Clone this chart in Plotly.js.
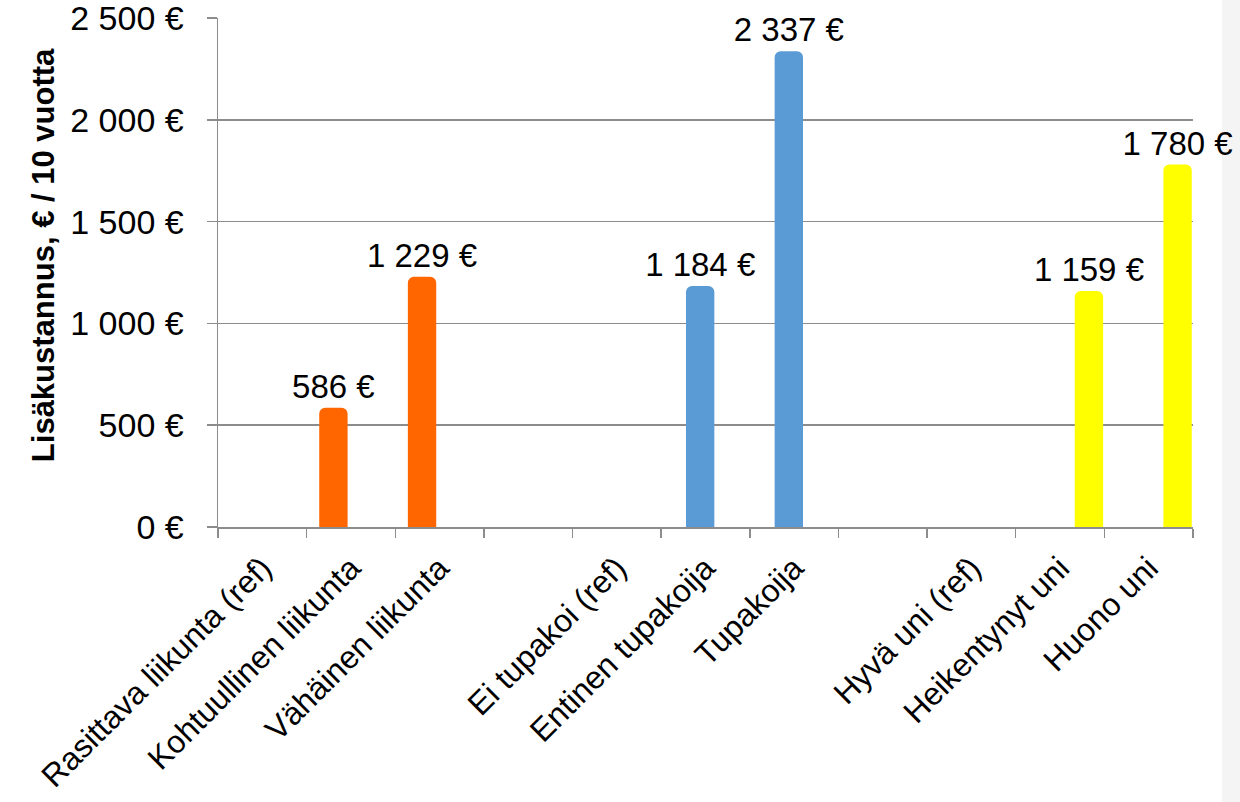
<!DOCTYPE html>
<html>
<head>
<meta charset="utf-8">
<script src="https://cdn.plot.ly/plotly-3.0.1.min.js"></script>
<style>
  html, body { margin: 0; padding: 0; background: #ffffff; }
  #chart { width: 1240px; height: 802px; }
</style>
</head>
<body>
<div id="chart"></div>
<script>
// Categories (blank slots separate the three groups)
const categories = [
  'Rasittava liikunta (ref)', 'Kohtuullinen liikunta', 'Vähäinen liikunta', '\u200b',
  'Ei tupakoi (ref)', 'Entinen tupakoija', 'Tupakoija', '\u200b\u200b',
  'Hyvä uni (ref)', 'Heikentynyt uni', 'Huono uni'
];
// Series values (€ / 10 years)
const liikunta = [null, 586, 1229, null, null, null, null, null, null, null, null];
const tupakointi = [null, null, null, null, null, 1184, 2337, null, null, null, null];
const uni = [null, null, null, null, null, null, null, null, null, 1159, 1780];
const yTitle = 'Lisäkustannus, € / 10 vuotta';

const FONT = 'Arial, "Liberation Sans", sans-serif';
const GRID = '#8c8c8c';

function barTrace(values, color, offset) {
  return {
    type: 'bar',
    x: categories,
    y: values,
    marker: { color: color, cornerradius: 6, line: { width: 0 } },
    width: 0.32,
    offset: offset,
    texttemplate: '%{y:,d} €',
    textposition: 'outside',
    constraintext: 'none',
    textfont: { family: FONT, size: 33, color: '#000000' },
    cliponaxis: false,
    hoverinfo: 'skip',
    showlegend: false
  };
}

const data = [
  barTrace(liikunta, '#FF6600', -0.358),
  barTrace(tupakointi, '#5B9BD5', -0.22),
  barTrace(uni, '#FFFF00', 0.166)
];

const layout = {
  width: 1240,
  height: 802,
  margin: { l: 218, r: 47, t: 18, b: 275 },
  paper_bgcolor: '#ffffff',
  plot_bgcolor: '#ffffff',
  separators: ', ',
  barmode: 'overlay',
  font: { family: FONT, size: 33, color: '#000000' },
  xaxis: {
    type: 'category',
    categoryorder: 'array',
    categoryarray: categories,
    range: [-0.5, 10.5],
    tickson: 'boundaries',
    ticks: 'outside',
    ticklen: 9,
    tickwidth: 1.5,
    tickcolor: GRID,
    showline: true,
    linecolor: GRID,
    linewidth: 1.5,
    showgrid: false,
    tickangle: -45,
    ticklabelstandoff: 8,
    ticklabeloverflow: 'allow',
    tickfont: { family: FONT, size: 32, color: '#000000' },
    automargin: false
  },
  yaxis: {
    range: [0, 2500],
    dtick: 500,
    tickformat: ',d',
    ticksuffix: ' €',
    ticks: 'outside',
    ticklen: 10,
    tickwidth: 1.5,
    tickcolor: GRID,
    showline: true,
    linecolor: GRID,
    linewidth: 1.5,
    showgrid: true,
    gridcolor: GRID,
    gridwidth: 1.5,
    zeroline: false,
    ticklabelstandoff: 16,
    ticklabeloverflow: 'allow',
    tickfont: { family: FONT, size: 34, color: '#000000' },
    automargin: false
  },
  annotations: [{
    text: '<b>' + yTitle + '</b>',
    xref: 'paper', yref: 'paper',
    x: -0.179, y: 0.535,
    xanchor: 'center', yanchor: 'middle',
    textangle: -90,
    showarrow: false,
    font: { family: FONT, size: 31, color: '#000000' }
  }],
  shapes: [{
    type: 'rect', xref: 'paper', yref: 'paper',
    x0: 1.0297, x1: 1.1, y0: -1, y1: 2,
    fillcolor: '#f4f4f4', line: { width: 0 }, layer: 'below'
  }]
};

Plotly.newPlot('chart', data, layout, { displayModeBar: false, staticPlot: true });
</script>
</body>
</html>
